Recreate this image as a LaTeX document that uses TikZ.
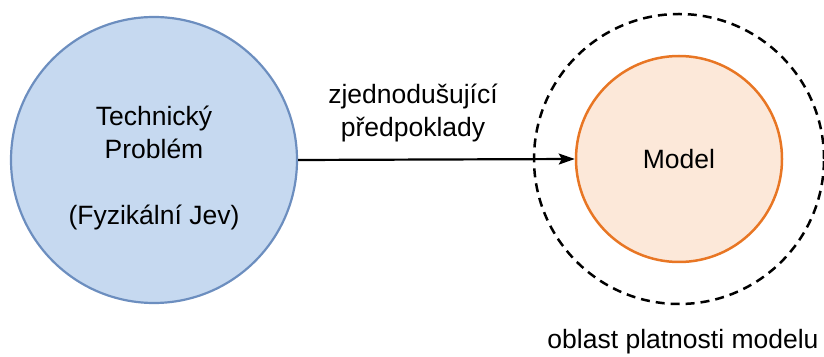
\documentclass[tikz,border=0pt]{standalone}
\usepackage{fontspec}
\setmainfont{Liberation Sans}
\usetikzlibrary{arrows.meta}

\definecolor{probfill}{RGB}{198,217,240}
\definecolor{probline}{RGB}{108,142,191}
\definecolor{modelfill}{RGB}{252,232,217}
\definecolor{modelline}{RGB}{232,118,36}

\tikzset{
  bigtext/.style={font=\fontsize{26.5}{33}\selectfont},
  problem/.style={circle, draw=probline, fill=probfill, line width=2.2pt, minimum size=286pt, inner sep=0pt},
  model/.style={circle, draw=modelline, fill=modelfill, line width=2.5pt, minimum size=206pt, inner sep=0pt},
  scope/.style={circle, draw=black, line width=2.5pt, dash pattern=on 9pt off 6pt, minimum size=290pt, inner sep=0pt}
}

\begin{document}
\begin{tikzpicture}[x=1pt,y=1pt]
                \useasboundingbox (0,0) rectangle (824,356);

                \coordinate (P) at (154,196);
                \coordinate (M) at (679,197);

                \node[scope] (validity) at (M) {};
                \node[problem] (tech) at (P) {};
                \node[model] (model) at (M) {};

                \node[bigtext, align=center] (techtxt) at (154,188) {Technický\\Problém\\[33pt](Fyzikální Jev)};
                \node[bigtext] (modeltxt) at (model) {Model};

                \draw[line width=2.2pt, -{Stealth[length=16pt,width=11pt,inset=3pt]}] (tech.east) -- (model.west);

                \node[bigtext, align=center] (assume) at (413,243) {zjednodušující\\předpoklady};
                \node[bigtext] (scopetxt) at (683,14) {oblast platnosti modelu};

                \end{tikzpicture}
\end{document}
